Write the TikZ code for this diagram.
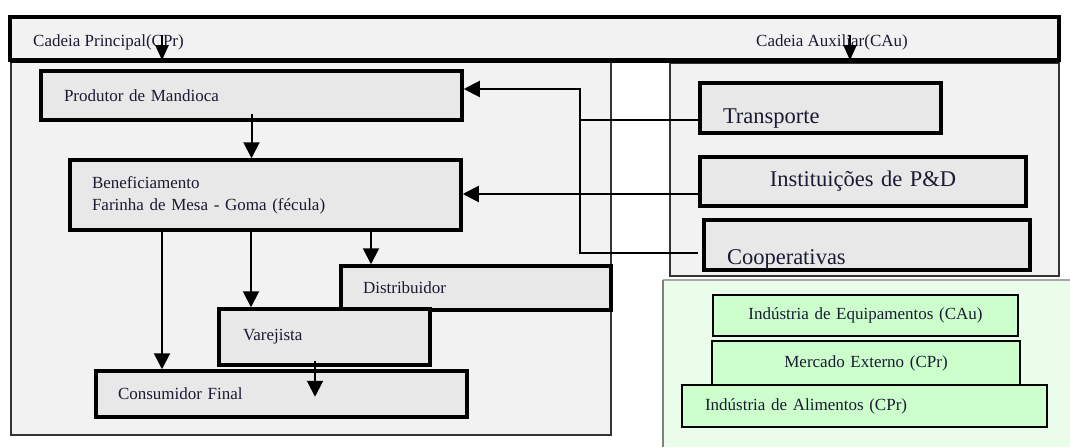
\documentclass[tikz,border=0pt]{standalone}
\usepackage{fontspec}
\setmainfont{Liberation Serif}
\usetikzlibrary{arrows.meta,calc}
\definecolor{bg}{HTML}{F2F2F2}
\definecolor{boxg}{HTML}{E8E8E8}
\definecolor{gbg}{HTML}{EAFDEA}
\definecolor{gboxc}{HTML}{CCFFCC}
\definecolor{txt}{HTML}{1A1A33}
\definecolor{cont}{HTML}{333333}
\newcommand\fsA{\fontsize{17}{22}\selectfont}
\newcommand\fsB{\fontsize{22.5}{26}\selectfont}
\begin{document}
\begin{tikzpicture}[x=1pt,y=-1pt,
  box/.style={draw, line width=3.5pt, fill=boxg, rectangle, inner ysep=0pt, font=\fsA, text=txt, align=left},
  gbox/.style={draw, line width=1.8pt, fill=gboxc, rectangle, inner ysep=0pt, font=\fsA, text=txt},
  contbox/.style={draw=cont, line width=2pt, fill=bg, rectangle, inner sep=0pt},
  conn/.style={line width=2pt, black},
  arr/.style={conn, -{Triangle[width=16pt,length=16pt]}},
  harr/.style={line width=2pt, -{Triangle[width=13pt,length=15pt]}},
  lbl/.style={font=\fsA, text=txt, inner sep=0pt}]
\useasboundingbox (0,0) rectangle (1070,447);
\fill[white] (0,0) rectangle (1070,447);

% header background
\node[fill=bg, minimum width=1049pt, minimum height=43pt, inner sep=0pt] (hdr) at (534.5,38.5) {};

% containers
\node[contbox, minimum width=600pt, minimum height=375pt] (cpr) at (311,247.5) {};
\node[contbox, minimum width=389pt, minimum height=213pt] (cau) at (864.5,169.5) {};

% green container
\fill[gbg] (663,280) rectangle (1070,447);
\draw[gray!70, line width=1.5pt] (663,280) -- (1070,280);
\draw[gray, line width=2.5pt] (663,447) -- (663,280);

% header border
\draw[line width=3.5pt] (hdr.south west) rectangle (hdr.north east);
\draw[line width=5pt] (hdr.south west) -- (hdr.south east);
\node[lbl, anchor=west] (tp) at (33,42) {Cadeia Principal(CPr)};
\node[lbl] (ta) at (832,42) {Cadeia Auxiliar(CAu)};
\coordinate (h1) at (162,35);
\coordinate (h2) at (850,35);
\draw[harr] (h1) -- (h1 |- hdr.south);
\draw[harr] (h2) -- (h2 |- hdr.south);

% main chain boxes
\node[box, minimum height=49pt, text width=375pt, inner xsep=23pt] (prod) at (251.5,95.5) {Produtor de Mandioca};
\node[box, minimum height=70pt, text width=347pt, inner xsep=22pt] (benef) at (265.5,195) {Beneficiamento\\Farinha de Mesa - Goma (fécula)};
\node[box, minimum height=44pt, text width=226pt, inner xsep=22pt] (dist) at (476,288) {Distribuidor};
\node[box, minimum height=56pt, text width=163pt, inner xsep=24pt] (var) at (324.5,337) {Varejista};
\node[box, minimum height=46pt, text width=327pt, inner xsep=22pt] (cons) at (281.5,394) {Consumidor Final};

% auxiliary chain boxes
\node[box, font=\fsB, minimum height=50pt, text width=195pt, inner xsep=23pt, text height=30.8pt, text depth=0pt] (trans) at (820.5,108) {Transporte};
\node[box, font=\fsB, minimum height=49pt, text width=326pt, inner xsep=0pt, align=center] (inst) at (863,181.5) {Instituições de P\&D};
\node[box, font=\fsB, minimum height=50pt, text width=280pt, inner xsep=23pt, text height=38.8pt, text depth=0pt] (coop) at (867,245) {Cooperativas};

% green boxes
\node[gbox, minimum height=41pt, text width=305pt, inner xsep=0pt, align=center] (equip) at (865.5,315.5) {Indústria de Equipamentos (CAu)};
\node[gbox, minimum height=44pt, text width=308pt, inner xsep=0pt, align=center] (merc) at (866,363) {Mercado Externo (CPr)};
\node[gbox, minimum height=42pt, text width=319pt, inner xsep=23pt, align=left] (alim) at (864.5,406) {Indústria de Alimentos (CPr)};

% connectors inside main chain
\coordinate (p1) at ([yshift=8pt]prod.south);
\draw[arr] (p1) -- (p1 |- benef.north);
\coordinate (b1) at ([xshift=-103.5pt]benef.south);
\coordinate (b2) at ([xshift=-14.5pt]benef.south);
\coordinate (b3) at ([xshift=105.5pt]benef.south);
\draw[arr] (b1) -- (b1 |- cons.north);
\draw[arr] (b2) -- (b2 |- var.north);
\draw[arr] (b3) -- (b3 |- dist.north);
\coordinate (v1) at ([xshift=-9.5pt,yshift=6pt]var.south);
\draw[arr] (v1) -- ++(0,36);

% connectors from auxiliary chain
\coordinate (j1) at (580,89);
\coordinate (j2) at (580,253);
\coordinate (tc) at ([yshift=-12pt]trans.west);
\coordinate (cc) at ([xshift=-4pt,yshift=-8pt]coop.west);
\coordinate (ic) at ([yshift=-12.5pt]inst.west);
\draw[conn] (cc) -- (j2) -- (j1);
\draw[arr] (tc) -| (j1) -- (j1 -| prod.east);
\draw[arr] (ic) -- (ic -| benef.east);
\end{tikzpicture}
\end{document}
